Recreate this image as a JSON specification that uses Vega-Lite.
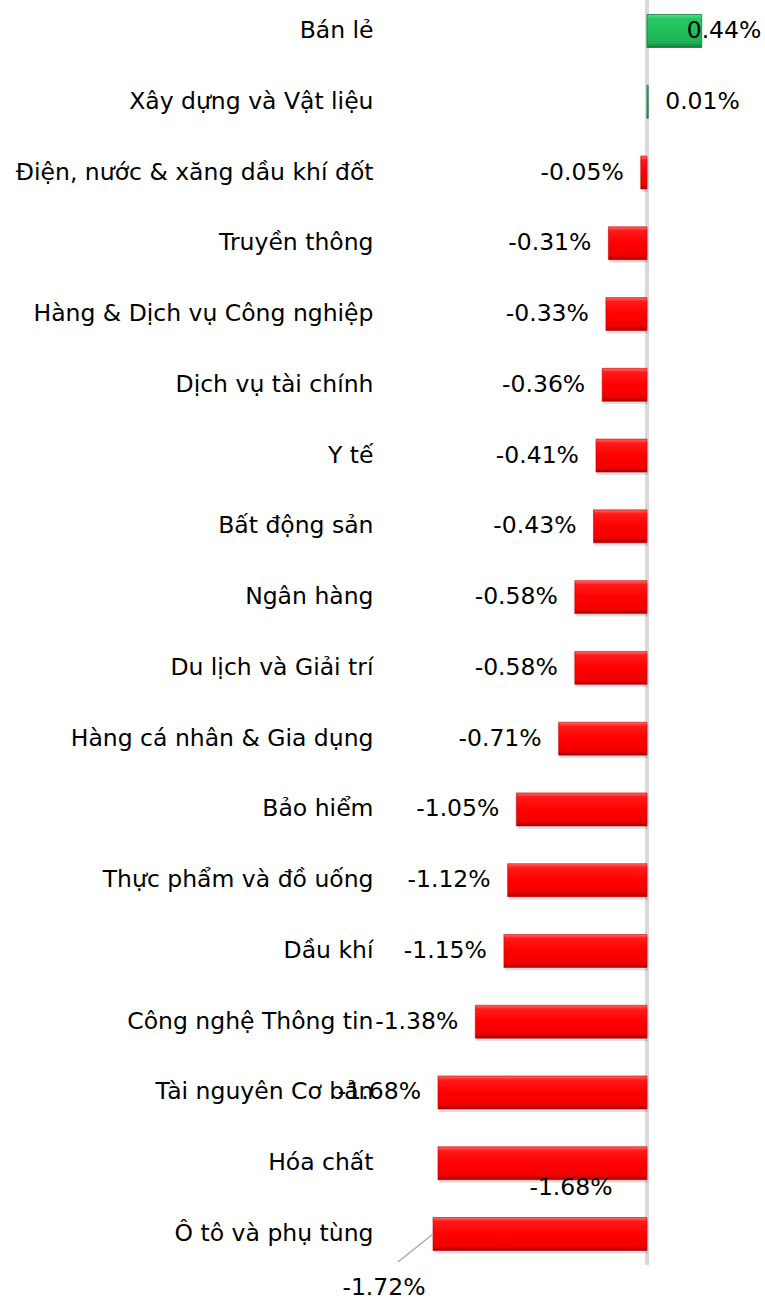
{
  "$schema": "https://vega.github.io/schema/vega-lite/v6.json",
  "autosize": "none",
  "width": 382,
  "height": 1265,
  "padding": {"left": 383, "top": 0, "right": 0, "bottom": 34},
  "background": "white",
  "config": {"view": {"stroke": null}, "font": "DejaVu Sans"},
  "data": {"values": [
    {"category": "Bán lẻ", "value": 0.44, "label": "0.44%"},
    {"category": "Xây dựng và Vật liệu", "value": 0.01, "label": "0.01%"},
    {"category": "Điện, nước & xăng dầu khí đốt", "value": -0.05, "label": "-0.05%"},
    {"category": "Truyền thông", "value": -0.31, "label": "-0.31%"},
    {"category": "Hàng & Dịch vụ Công nghiệp", "value": -0.33, "label": "-0.33%"},
    {"category": "Dịch vụ tài chính", "value": -0.36, "label": "-0.36%"},
    {"category": "Y tế", "value": -0.41, "label": "-0.41%"},
    {"category": "Bất động sản", "value": -0.43, "label": "-0.43%"},
    {"category": "Ngân hàng", "value": -0.58, "label": "-0.58%"},
    {"category": "Du lịch và Giải trí", "value": -0.58, "label": "-0.58%"},
    {"category": "Hàng cá nhân & Gia dụng", "value": -0.71, "label": "-0.71%"},
    {"category": "Bảo hiểm", "value": -1.05, "label": "-1.05%"},
    {"category": "Thực phẩm và đồ uống", "value": -1.12, "label": "-1.12%"},
    {"category": "Dầu khí", "value": -1.15, "label": "-1.15%"},
    {"category": "Công nghệ Thông tin", "value": -1.38, "label": "-1.38%"},
    {"category": "Tài nguyên Cơ bản", "value": -1.68, "label": "-1.68%"},
    {"category": "Hóa chất", "value": -1.68, "label": "-1.68%"},
    {"category": "Ô tô và phụ tùng", "value": -1.72, "label": "-1.72%"}
  ]},
  "encoding": {
    "y": {
      "field": "category", "type": "nominal",
      "sort": ["Bán lẻ", "Xây dựng và Vật liệu", "Điện, nước & xăng dầu khí đốt", "Truyền thông", "Hàng & Dịch vụ Công nghiệp", "Dịch vụ tài chính", "Y tế", "Bất động sản", "Ngân hàng", "Du lịch và Giải trí", "Hàng cá nhân & Gia dụng", "Bảo hiểm", "Thực phẩm và đồ uống", "Dầu khí", "Công nghệ Thông tin", "Tài nguyên Cơ bản", "Hóa chất", "Ô tô và phụ tùng"],
      "scale": {"paddingInner": 0.534, "paddingOuter": 0.205},
      "axis": {"title": null, "domain": false, "ticks": false, "tickSize": 0, "labelPadding": 10, "labelLimit": 0, "labelFontSize": 23.5, "labelColor": "#000", "labelFont": "DejaVu Sans"}
    },
    "x": {
      "field": "value", "type": "quantitative",
      "scale": {"domain": [-2.122, 0.949], "nice": false, "zero": false},
      "axis": null
    }
  },
  "layer": [
    {
      "mark": {"type": "rule", "color": "#d9d9d9", "strokeWidth": 2.5},
      "encoding": {"x": {"datum": 0, "type": "quantitative"}, "y": null}
    },
    {
      "mark": {"type": "bar", "fill": "#000", "opacity": 0.12, "yOffset": 3, "xOffset": 1},
      "transform": [{"filter": "datum.value < 0"}]
    },
    {
      "mark": {"type": "bar", "stroke": "#c00000", "strokeWidth": 0.6,
        "fill": {"gradient": "linear", "x1": 0, "y1": 0, "x2": 0, "y2": 1,
          "stops": [{"offset": 0, "color": "#ff6a6a"}, {"offset": 0.12, "color": "#ff1a1a"}, {"offset": 0.5, "color": "#ff0000"}, {"offset": 0.86, "color": "#f20000"}, {"offset": 1, "color": "#a80000"}]}},
      "transform": [{"filter": "datum.value < 0"}]
    },
    {
      "mark": {"type": "bar", "stroke": "#0f7a3a", "strokeWidth": 0.8,
        "fill": {"gradient": "linear", "x1": 0, "y1": 0, "x2": 0, "y2": 1,
          "stops": [{"offset": 0, "color": "#5fe08f"}, {"offset": 0.12, "color": "#26c862"}, {"offset": 0.5, "color": "#1fbf5a"}, {"offset": 0.86, "color": "#1bb053"}, {"offset": 1, "color": "#0f7a3a"}]}},
      "transform": [{"filter": "datum.value > 0"}]
    },
    {
      "mark": {"type": "text", "align": "right", "baseline": "middle", "dx": -17, "fontSize": 23.5, "color": "#000"},
      "transform": [{"filter": "datum.value < 0 && datum.category != 'Hóa chất' && datum.category != 'Ô tô và phụ tùng'"}],
      "encoding": {"text": {"field": "label"}}
    },
    {
      "mark": {"type": "text", "align": "left", "baseline": "middle", "dx": 17, "fontSize": 23.5, "color": "#000"},
      "transform": [{"filter": "datum.category == 'Xây dựng và Vật liệu'"}],
      "encoding": {"text": {"field": "label"}}
    },
    {
      "mark": {"type": "text", "align": "left", "baseline": "middle", "dx": -15, "fontSize": 23.5, "color": "#000"},
      "transform": [{"filter": "datum.category == 'Bán lẻ'"}],
      "encoding": {"text": {"field": "label"}}
    },
    {
      "mark": {"type": "text", "align": "center", "baseline": "middle", "dx": 133, "dy": 25, "fontSize": 23.5, "color": "#000"},
      "transform": [{"filter": "datum.category == 'Hóa chất'"}],
      "encoding": {"text": {"field": "label"}}
    },
    {
      "mark": {"type": "text", "align": "center", "baseline": "middle", "dx": -49, "dy": 54, "fontSize": 23.5, "color": "#000"},
      "transform": [{"filter": "datum.category == 'Ô tô và phụ tùng'"}],
      "encoding": {"text": {"field": "label"}}
    },
    {
      "mark": {"type": "rule", "color": "#a6a6a6", "strokeWidth": 1.2, "x2Offset": -35, "y2Offset": 28},
      "transform": [{"filter": "datum.category == 'Ô tô và phụ tùng'"}],
      "encoding": {"x2": {"field": "value"}, "y2": {"field": "category"}}
    }
  ]
}
